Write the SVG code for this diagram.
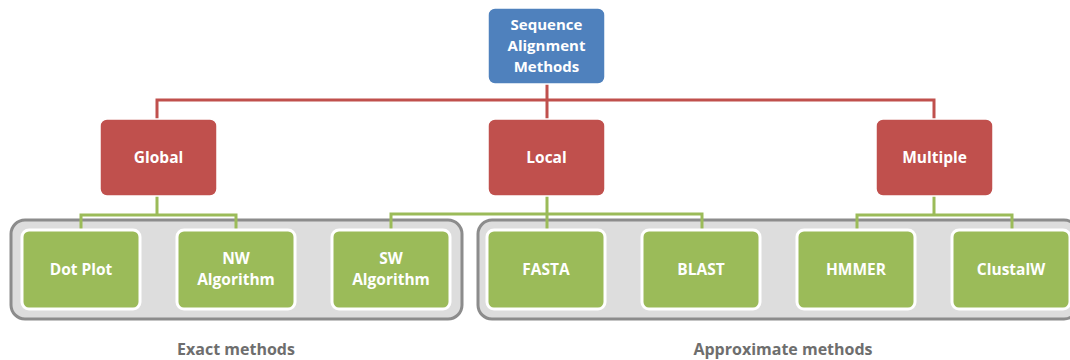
<svg xmlns="http://www.w3.org/2000/svg" width="1070" height="360" viewBox="0 0 1070 360">
<style>
.bg{fill:#ffffff}
.cont{fill:#DDDDDD;stroke:#8C8C8C;stroke-width:3}
.blue{fill:#4F81BD;stroke:#ffffff;stroke-width:1.5}
.red{fill:#C0504D;stroke:#ffffff;stroke-width:1.5}
.green{fill:#9BBB59;stroke:#ffffff;stroke-width:3}
.lr{fill:none;stroke:#C0504D;stroke-width:3}
.lg{fill:none;stroke:#9BBB59;stroke-width:3}
.t{font-family:"Open Sans","Liberation Sans",sans-serif;font-weight:bold;font-size:15.5px;fill:#ffffff;text-anchor:middle}
.tr{font-size:15px}
.cap{font-family:"Open Sans","Liberation Sans",sans-serif;font-weight:bold;font-size:16px;fill:#6E6E6E;text-anchor:middle}
</style>
<rect class="bg" x="0" y="0" width="1070" height="360"/>
<g id="groups">
<rect class="cont" x="11" y="220" width="451" height="99" rx="14"/>
<rect class="cont" x="478" y="220" width="600" height="99" rx="14"/>
</g>
<g id="connectors">
<path class="lr" d="M547 84V100M157 120V100H934V120M547 100V120"/>
<path class="lg" d="M157 196V215M81 231V215H236V231"/>
<path class="lg" d="M547 196V231M391 231V214H702V231"/>
<path class="lg" d="M934 196V215M857 231V215H1012V231"/>
</g>
<g id="root"><rect class="blue" x="488" y="8" width="117" height="76" rx="7"/>
<text class="t tr" x="546.5" y="30">Sequence</text><text class="t tr" x="546.5" y="51">Alignment</text><text class="t tr" x="546.5" y="72">Methods</text></g>
<g id="global"><rect class="red" x="100" y="119" width="117" height="77" rx="7"/><text class="t" x="158.5" y="163">Global</text></g>
<g id="local"><rect class="red" x="488" y="119" width="117" height="77" rx="7"/><text class="t" x="546.5" y="163">Local</text></g>
<g id="multiple"><rect class="red" x="876" y="119" width="117" height="77" rx="7"/><text class="t" x="934.5" y="163">Multiple</text></g>
<g id="dotplot"><rect class="green" x="22" y="230" width="118" height="79" rx="7"/><text class="t" x="81" y="275">Dot Plot</text></g>
<g id="nw"><rect class="green" x="177" y="230" width="118" height="79" rx="7"/><text class="t" x="236" y="264">NW</text><text class="t" x="236" y="285">Algorithm</text></g>
<g id="sw"><rect class="green" x="332" y="230" width="118" height="79" rx="7"/><text class="t" x="391" y="264">SW</text><text class="t" x="391" y="285">Algorithm</text></g>
<g id="fasta"><rect class="green" x="487" y="230" width="118" height="79" rx="7"/><text class="t" x="546" y="275">FASTA</text></g>
<g id="blast"><rect class="green" x="642" y="230" width="118" height="79" rx="7"/><text class="t" x="701" y="275">BLAST</text></g>
<g id="hmmer"><rect class="green" x="797" y="230" width="118" height="79" rx="7"/><text class="t" x="856" y="275">HMMER</text></g>
<g id="clustalw"><rect class="green" x="952" y="230" width="118" height="79" rx="7"/><text class="t" x="1011" y="275">ClustalW</text></g>
<g id="labels">
<text class="cap" x="236" y="355">Exact methods</text>
<text class="cap" x="783" y="355">Approximate methods</text>
</g>
</svg>
